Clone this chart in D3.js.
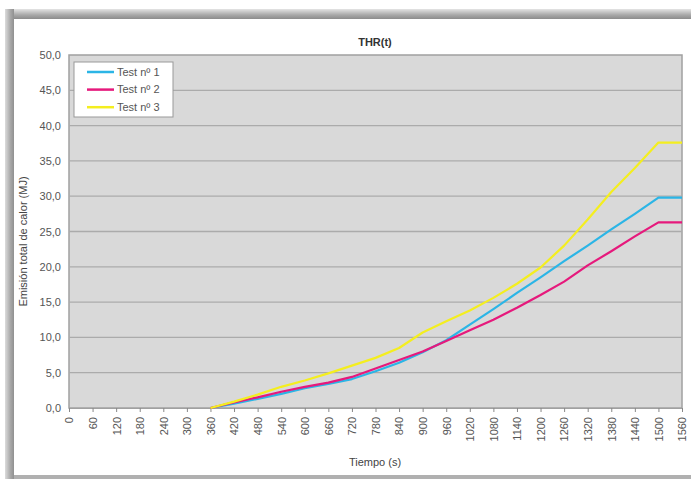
<!DOCTYPE html>
<html><head><meta charset="utf-8">
<script src="https://cdn.jsdelivr.net/npm/d3@7/dist/d3.min.js"></script>
<style>
html,body{margin:0;padding:0;background:#fff;}
svg{display:block;font-family:"Liberation Sans",Arial,sans-serif;}
</style></head><body>
<svg id="c" width="691" height="479"></svg>
<script>
const times = [360,420,480,540,600,660,720,780,840,900,960,1020,1080,1140,1200,1260,1320,1380,1440,1500,1560];
const test1 = [0,0.6,1.3,2.0,2.8,3.4,4.1,5.2,6.4,7.9,9.6,11.8,14.0,16.3,18.5,20.8,23.0,25.3,27.5,29.8,29.8];
const test2 = [0,0.8,1.5,2.3,3.0,3.6,4.4,5.6,6.8,8.0,9.5,11.0,12.5,14.2,16.0,17.9,20.2,22.2,24.3,26.3,26.3];
const test3 = [0,0.9,1.9,3.0,3.9,4.9,6.0,7.1,8.5,10.7,12.3,13.8,15.6,17.6,19.9,23.0,26.7,30.6,34.0,37.6,37.6];
const seriesNames = ["Test n\u00ba 1","Test n\u00ba 2","Test n\u00ba 3"];
const seriesColors = ["#2bb5e6","#e6197c","#f4ee1f"];
const xTicks = d3.range(0,1561,60);
const yTicks = [0,5,10,15,20,25,30,35,40,45,50];
const title = "THR(t)";
const xTitle = "Tiempo (s)";
const yTitle = "Emisi\u00f3n total de calor (MJ)";

const svg = d3.select("#c");
// frame
const defs = svg.append("defs");
const gTop = defs.append("linearGradient").attr("id","gt").attr("x1",0).attr("y1",0).attr("x2",0).attr("y2",1);
gTop.append("stop").attr("offset","0").attr("stop-color","#e4e4e4");
gTop.append("stop").attr("offset","0.6").attr("stop-color","#a8a8a8");
gTop.append("stop").attr("offset","1").attr("stop-color","#8c8c8c");
const gLeft = defs.append("linearGradient").attr("id","gl").attr("x1",0).attr("y1",0).attr("x2",1).attr("y2",0);
gLeft.append("stop").attr("offset","0").attr("stop-color","#dcdcdc");
gLeft.append("stop").attr("offset","0.6").attr("stop-color","#a8a8a8");
gLeft.append("stop").attr("offset","1").attr("stop-color","#909090");
svg.append("rect").attr("x",5).attr("y",9).attr("width",686).attr("height",470).attr("fill","#b0b0b0");
svg.append("rect").attr("x",5).attr("y",9).attr("width",686).attr("height",10).attr("fill","url(#gt)");
svg.append("rect").attr("x",5).attr("y",9).attr("width",9).attr("height",470).attr("fill","url(#gl)");
svg.append("rect").attr("x",14).attr("y",19).attr("width",677).attr("height",456).attr("fill","#ffffff");

const L=69,R=682,T=55,B=408;
const x = d3.scaleLinear().domain([0,1560]).range([L,R]);
const y = d3.scaleLinear().domain([0,50]).range([B,T]);

svg.append("rect").attr("x",L).attr("y",T).attr("width",R-L).attr("height",B-T).attr("fill","#d9d9d9").attr("stroke","#a0a0a0").attr("stroke-width",1.5);

// grid
svg.append("g").selectAll("line").data(yTicks.filter(v=>v>0&&v<50)).join("line")
  .attr("x1",L).attr("x2",R).attr("y1",d=>y(d)).attr("y2",d=>y(d))
  .attr("stroke","#ababab").attr("stroke-width",1.3);

// axes
const yAxis = svg.append("g").attr("transform",`translate(${L},0)`)
  .call(d3.axisLeft(y).tickValues(yTicks).tickSize(0).tickPadding(8).tickFormat(d=>d3.format(".1f")(d).replace(".",",")));
yAxis.select(".domain").remove();
yAxis.selectAll("text").attr("fill","#555").attr("font-size","11px");

const xAxis = svg.append("g").attr("transform",`translate(0,${B})`)
  .call(d3.axisBottom(x).tickValues(xTicks).tickSize(4).tickFormat(d3.format("d")));
xAxis.select(".domain").attr("stroke","#a0a0a0");
xAxis.selectAll(".tick line").attr("stroke","#888");
xAxis.selectAll("text").attr("fill","#555").attr("font-size","11px")
  .attr("transform","rotate(-90)").attr("text-anchor","end").attr("dy","0.35em").attr("x",-9).attr("y",0);

// lines
const line = d3.line().x((d,i)=>x(times[i])).y(d=>y(d));
[test1,test2,test3].forEach((s,k)=>{
  svg.append("path").datum(s).attr("d",line).attr("fill","none")
    .attr("stroke",seriesColors[k]).attr("stroke-width",2.2).attr("stroke-linejoin","round");
});
// redraw order: yellow drawn last? keep pink over blue early
// legend
const lg = svg.append("g").attr("transform","translate(74,62)");
lg.append("rect").attr("width",99).attr("height",55).attr("fill","#fff").attr("stroke","#999").attr("stroke-width",1);
seriesNames.forEach((n,k)=>{
  const yy = 10 + k*17.6;
  lg.append("line").attr("x1",13).attr("x2",40).attr("y1",yy).attr("y2",yy).attr("stroke",seriesColors[k]).attr("stroke-width",2.5);
  lg.append("text").attr("x",43).attr("y",yy).attr("dy","0.35em").attr("font-size","11px").attr("fill","#555").text(n);
});

svg.append("text").attr("x",375).attr("y",46).attr("text-anchor","middle").attr("font-size","11px").attr("font-weight","bold").attr("fill","#333").text(title);
svg.append("text").attr("x",375).attr("y",466).attr("text-anchor","middle").attr("font-size","11px").attr("fill","#444").text(xTitle);
svg.append("text").attr("transform",`translate(27,${(T+B)/2+10}) rotate(-90)`).attr("text-anchor","middle").attr("font-size","11px").attr("fill","#444").text(yTitle);
</script>
</body></html>
